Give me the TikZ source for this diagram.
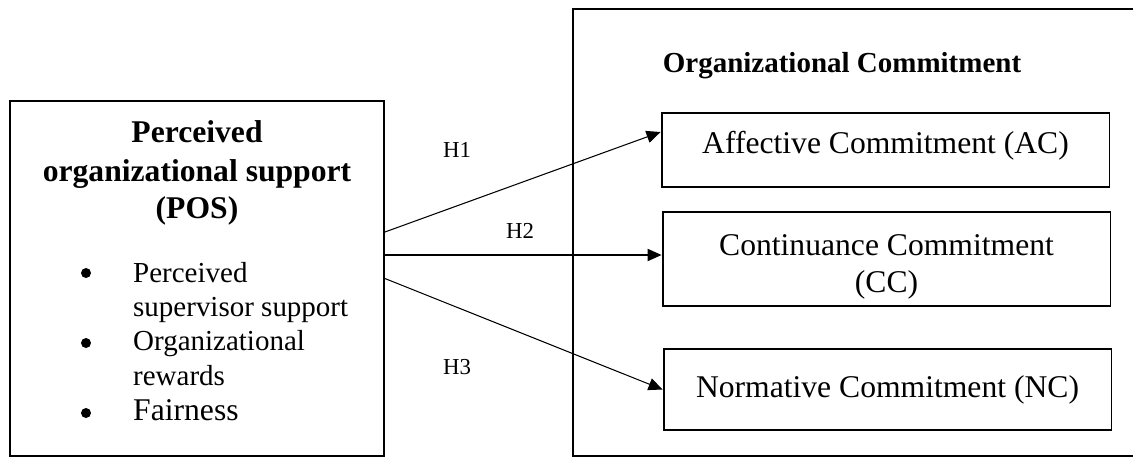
\documentclass[tikz,border=0pt]{standalone}
\usepackage{fontspec}
\setmainfont{Liberation Serif}
\usetikzlibrary{arrows.meta,calc}

\tikzset{
  box/.style={draw, line width=1.1pt, minimum width=8.96cm, inner sep=0pt, font=\fontsize{18}{21}\selectfont},
  hyp/.style={-{Triangle[length=8pt,width=7pt]}, line width=0.6pt},
  hlabel/.style={anchor=base, font=\fontsize{13}{15}\selectfont},
  postext/.style={anchor=base, font=\fontsize{18}{21.6}\selectfont\bfseries},
  item/.style={anchor=base west, font=\fontsize{16.5}{19.6}\selectfont},
  dot/.style={circle, fill, inner sep=0pt, minimum size=0.2cm},
}

\begin{document}
\begin{tikzpicture}[x=0.02cm, y=-0.02cm]
  \useasboundingbox (0,0) rectangle (1133,457);
  % left construct
  \node[draw, line width=1.1pt, minimum width=7.48cm, minimum height=7.1cm] (pos) at (197,278.5) {};
  \foreach \y/\t [count=\i] in {142/Perceived, 181/organizational support, 218/(POS)}
    \node[postext] (t\i) at (197,\y) {\t};
  \foreach \y [count=\i] in {273,343,413}
    \node[dot] (b\i) at (86,\y) {};
  \foreach \y/\t [count=\i] in {282/Perceived, 316/supervisor support, 350/Organizational, 385/rewards}
    \node[item] (l\i) at (127,\y) {\t};
  \node[item, font=\fontsize{18}{21}\selectfont] (l5) at (127,420) {Fairness};

  % right construct
  \draw[line width=1.1pt] (1133,9) -| (573,456) -- (1133,456);
  \node[anchor=base, font=\fontsize{16.5}{20}\selectfont\bfseries] (oc) at (842,72) {Organizational Commitment};
  \node[box, minimum height=1.48cm, text depth=9pt] (ac) at (885.5,150) {Affective Commitment (AC)};
  \node[box, minimum height=1.88cm, align=center, text height=40pt, text depth=2pt] (cc) at (886.5,259) {Continuance Commitment\\(CC)};
  \node[box, minimum height=1.62cm] (nc) at (887.5,389.5) {Normative Commitment (NC)};

  % hypotheses
  \draw[hyp] ($(pos.east)+(0,-46.5)$) -- ($(ac.west)+(0,-18)$);
  \draw[hyp] ($(pos.east)+(0,-23.5)$) -- ($(cc.west)+(0,-4)$);
  \draw[hyp] (pos.east) -- (nc.west);
  \node[hlabel] (h1) at (457,157) {H1};
  \node[hlabel] (h2) at (520,238) {H2};
  \node[hlabel] (h3) at (457,374) {H3};
\end{tikzpicture}
\end{document}
